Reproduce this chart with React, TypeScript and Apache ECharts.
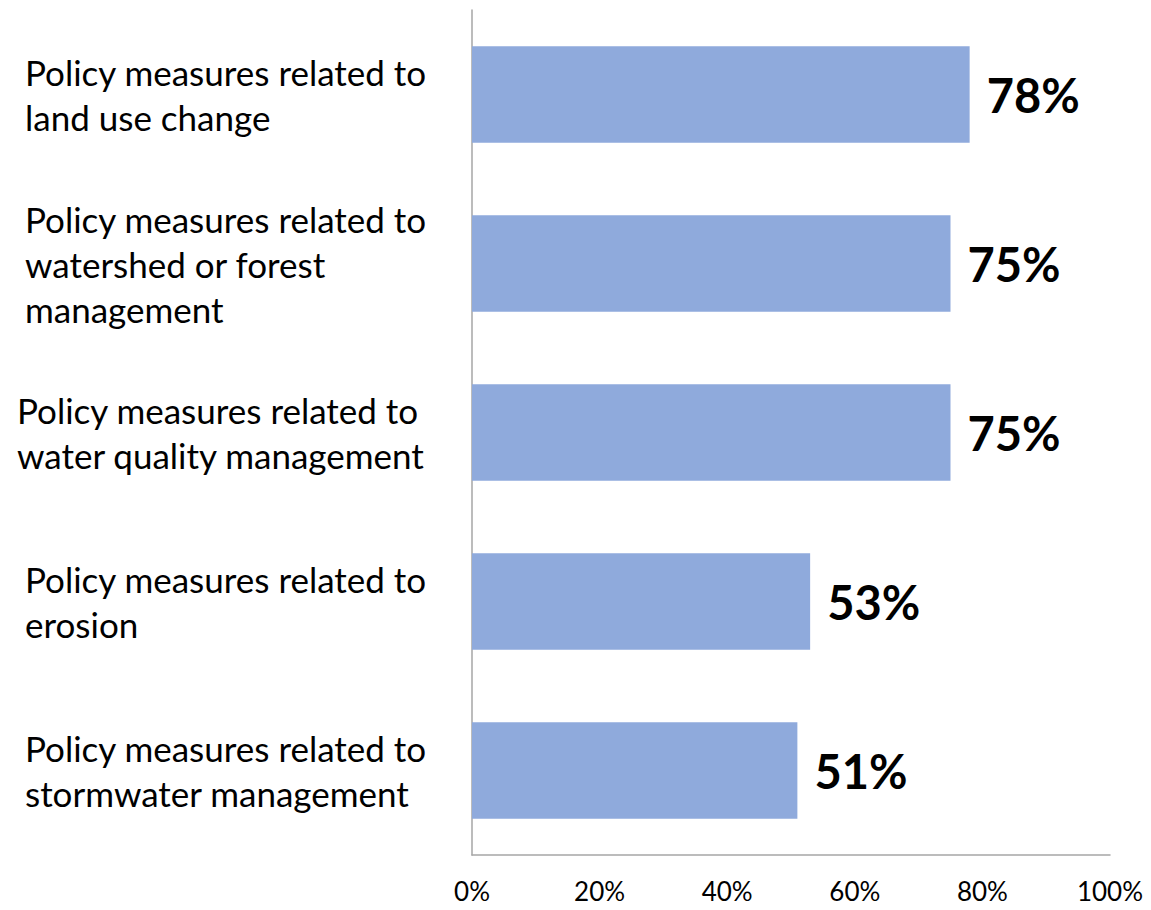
import React, { useEffect, useRef } from "react";
import * as echarts from "echarts";

const categories = [
  "Policy measures related to\nland use change",
  "Policy measures related to\nwatershed or forest\nmanagement",
  "Policy measures related to\nwater quality management",
  "Policy measures related to\nerosion",
  "Policy measures related to\nstormwater management",
];
const values = [78, 75, 75, 53, 51];
const xTicks = [0, 20, 40, 60, 80, 100];

export default function App() {
  const ref = useRef<HTMLDivElement>(null);
  useEffect(() => {
    document.body.style.margin = "0";
    const chart = echarts.init(ref.current!, null, { renderer: "svg" });
    const font = "Lato, Carlito, Calibri, sans-serif";
    chart.setOption({
      animation: false,
      backgroundColor: "#ffffff",
      grid: {
        left: 472,
        right: 41,
        top: 10,
        bottom: 55,
        containLabel: false,
        outerBoundsMode: "none",
      },
      xAxis: {
        type: "value",
        min: xTicks[0],
        max: xTicks[xTicks.length - 1],
        interval: 20,
        splitLine: { show: false },
        axisTick: { show: false },
        axisLine: { show: true, lineStyle: { color: "#a6a6a6", width: 1.5 } },
        axisLabel: {
          formatter: "{value}%",
          color: "#000",
          fontSize: 26,
          lineHeight: 26,
          fontFamily: font,
          margin: 23,
        },
      },
      yAxis: {
        type: "category",
        inverse: true,
        data: categories.map((c, i) => ({
          value: c,
          textStyle: {
            align: "left",
            padding: i === 2 ? [0, 0, 0, 0] : [0, 0, 0, 8],
          },
        })),
        axisTick: { show: false },
        axisLine: { show: true, lineStyle: { color: "#a6a6a6", width: 1.5 } },
        axisLabel: {
          align: "left",
          margin: 455,
          color: "#000",
          fontSize: 35,
          lineHeight: 45,
          fontFamily: font,
        },
      },
      series: [
        {
          type: "bar",
          data: values,
          barCategoryGap: "43%",
          itemStyle: { color: "#8faadc" },
          label: {
            show: true,
            position: "right",
            distance: 17,
            formatter: "{c}%",
            color: "#000",
            fontSize: 47,
            fontWeight: "bold",
            fontFamily: font,
          },
        },
      ],
    });
    return () => chart.dispose();
  }, []);
  return <div ref={ref} style={{ width: 1151, height: 910 }} />;
}
